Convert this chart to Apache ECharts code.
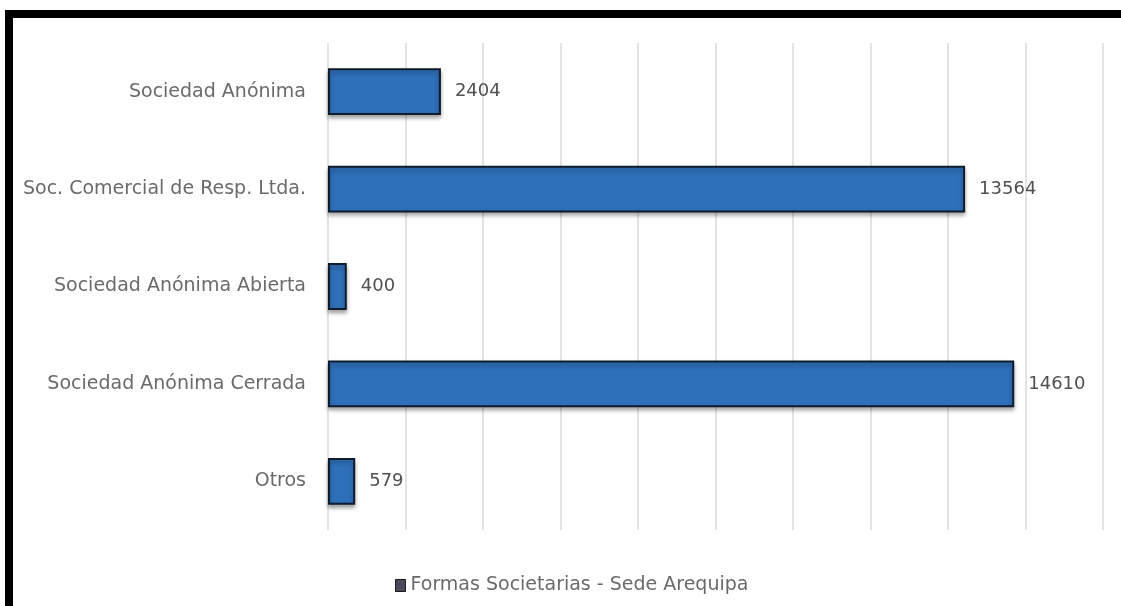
<!DOCTYPE html>
<html>
<head>
<meta charset="utf-8">
<script src="https://cdn.jsdelivr.net/npm/echarts@6/dist/echarts.min.js"></script>
<style>
    html, body {margin: 0; padding: 0; background: #fff;}
    #chart {width: 1121px; height: 606px; position: relative;}
    /* marco negro arriba e izquierda, como en la captura */
    #marco {position: absolute; left: 5px; top: 10px; right: 0; bottom: 0;
        border-top: 8px solid #000; border-left: 8px solid #000; pointer-events: none;}
</style>
</head>
<body>
<div id="chart"></div>
<div id="marco"></div>
<script>
// categorias de arriba hacia abajo
var aCategorias = ['Sociedad Anónima', 'Soc. Comercial de Resp. Ltda.', 'Sociedad Anónima Abierta', 'Sociedad Anónima Cerrada', 'Otros'];
var aValores = [2404, 13564, 400, 14610, 579];
var sSerie = 'Formas Societarias - Sede Arequipa';

var sFuente = '"DejaVu Sans", sans-serif';

var jOption = {
    animation: false,
    grid: {
        left: 328,
        right: 18,
        top: 43,
        bottom: 76
    },
    legend: {
        data: [sSerie],
        left: 390,
        top: 571,
        itemWidth: 10,
        itemHeight: 12,
        itemGap: 9,
        icon: 'rect',
        itemStyle: {color: '#4a4a5c', borderColor: '#1a1a1a', borderWidth: 1},
        textStyle: {color: '#6a6a6a', fontSize: 19, fontFamily: sFuente}
    },
    xAxis: {
        type: 'value',
        min: 0,
        max: 16500,
        interval: 1650,
        axisLabel: {show: false},
        axisLine: {show: false},
        axisTick: {show: false},
        splitLine: {lineStyle: {color: '#e3e3e3', width: 2}}
    },
    yAxis: {
        type: 'category',
        inverse: true,
        data: aCategorias,
        axisLine: {show: false},
        axisTick: {show: false},
        axisLabel: {
            margin: 22,
            color: '#6a6a6a',
            fontSize: 19,
            fontFamily: sFuente
        }
    },
    series: [
        {
            name: sSerie,
            type: 'bar',
            data: aValores,
            barCategoryGap: '52%',
            itemStyle: {
                color: '#2e70ba',
                borderColor: '#0f1c2e',
                borderWidth: 2,
                shadowColor: 'rgba(0,0,0,0.35)',
                shadowBlur: 4,
                shadowOffsetY: 3
            },
            label: {
                show: true,
                position: 'right',
                distance: 14,
                color: '#505050',
                fontSize: 18,
                fontFamily: sFuente
            }
        }
    ]
};

var myChart = echarts.init(document.getElementById('chart'));
myChart.setOption(jOption);
</script>
</body>
</html>
